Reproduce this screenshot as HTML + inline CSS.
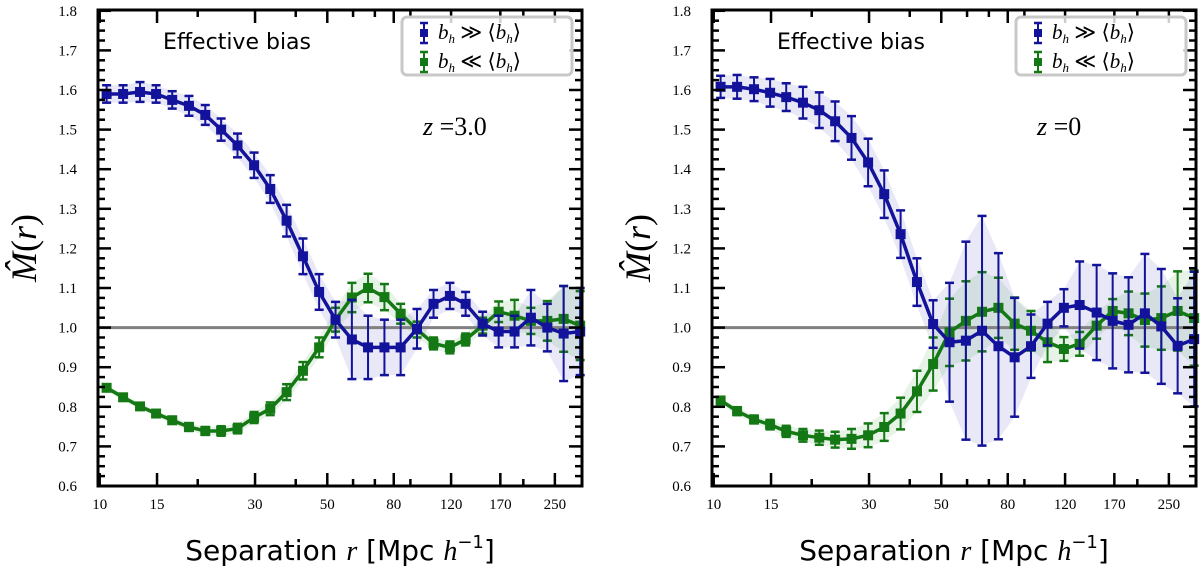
<!DOCTYPE html>
<html><head><meta charset="utf-8"><style>
body{margin:0;background:#fff;width:1200px;height:572px;overflow:hidden}
svg{display:block}
</style></head><body>
<svg id="fig" width="1200" height="572"></svg>
<script>
const radii=[10.5,11.8,13.3,14.9,16.7,18.8,21.1,23.6,26.5,29.8,33.4,37.5,42.1,47.2,53.0,59.5,66.7,74.9,84.0,94.3,106,119,133,150,168,188,211,237,266,299];
const leftHigh=[1.59,1.59,1.595,1.59,1.575,1.56,1.537,1.50,1.46,1.41,1.35,1.27,1.18,1.09,1.02,0.97,0.95,0.95,0.95,0.997,1.06,1.08,1.06,1.01,0.99,0.99,1.025,1.0,0.985,0.99];
const leftHighErr=[0.022,0.022,0.025,0.022,0.022,0.025,0.025,0.028,0.03,0.032,0.035,0.04,0.045,0.045,0.045,0.1,0.08,0.07,0.07,0.05,0.035,0.033,0.03,0.03,0.04,0.04,0.07,0.06,0.12,0.11];
const leftLow=[0.848,0.824,0.801,0.783,0.766,0.749,0.739,0.739,0.745,0.773,0.795,0.837,0.891,0.95,1.02,1.076,1.10,1.077,1.035,0.995,0.96,0.95,0.97,1.005,1.04,1.03,1.017,1.017,1.022,1.005];
const leftLowErr=[0.008,0.008,0.008,0.008,0.009,0.01,0.01,0.012,0.012,0.014,0.016,0.02,0.022,0.025,0.03,0.037,0.036,0.033,0.025,0.02,0.015,0.015,0.015,0.02,0.026,0.04,0.033,0.05,0.083,0.087];
const rightHigh=[1.608,1.608,1.602,1.593,1.582,1.568,1.549,1.521,1.479,1.417,1.337,1.236,1.115,1.009,0.963,0.967,0.992,0.953,0.925,0.953,1.01,1.05,1.057,1.038,1.017,1.007,1.036,1.003,0.954,0.971];
const rightHighErr=[0.028,0.03,0.03,0.035,0.035,0.04,0.045,0.05,0.055,0.06,0.06,0.06,0.06,0.06,0.15,0.25,0.29,0.235,0.15,0.08,0.055,0.047,0.11,0.12,0.12,0.12,0.15,0.145,0.12,0.17];
const rightLow=[0.816,0.789,0.768,0.755,0.738,0.728,0.722,0.717,0.719,0.728,0.749,0.783,0.839,0.908,0.988,1.017,1.04,1.05,1.01,0.992,0.963,0.946,0.959,1.005,1.042,1.036,1.019,1.024,1.042,1.024];
const rightLowErr=[0.008,0.01,0.01,0.012,0.014,0.016,0.018,0.02,0.025,0.03,0.035,0.04,0.052,0.067,0.085,0.1,0.1,0.076,0.066,0.05,0.05,0.03,0.03,0.033,0.03,0.055,0.067,0.08,0.1,0.12];
const xTicks=[10,15,30,50,80,120,170,250];
const xMinor=[20,40,60,70,90,200];
const yTicks=[0.6,0.7,0.8,0.9,1.0,1.1,1.2,1.3,1.4,1.5,1.6,1.7,1.8];
const panelLabels=["z =3.0","z =0"];

const NS="http://www.w3.org/2000/svg";
const svg=document.getElementById('fig');
function mk(tag,attrs,parent){const e=document.createElementNS(NS,tag);for(const k in attrs)e.setAttribute(k,attrs[k]);(parent||svg).appendChild(e);return e;}
const TOP=10,BOT=486,W=484,PXD=325.6;
const BLUE="#12129a",GREEN="#147814";

function panel(x0,hi,hiE,lo,loE,zlab,idx){
  const g=mk('g',{});
  
  
  const X=r=>x0+1.7+Math.log10(r/10)*PXD;
  const Y=v=>BOT-(v-0.6)*396;
  function band(vals,errs,color,name){
    let top=vals.map((v,i)=>X(radii[i])+','+Y(v+errs[i]));
    let bot=vals.map((v,i)=>X(radii[i])+','+Y(v-errs[i])).reverse();
    const p=mk('polygon',{points:top.concat(bot).join(' '),fill:color,'fill-opacity':0.1,stroke:'none'},g);
    
    
  }
  band(hi,hiE,'#1a1ab0','high-bias-band');
  band(lo,loE,'#1a8a1a','low-bias-band');
  const ul=mk('line',{x1:x0,x2:x0+W,y1:Y(1.0),y2:Y(1.0),stroke:'#808080','stroke-width':3},g);
  
  
  function series(vals,errs,color,name){
    const sg=mk('g',{},g);
    
    
    mk('polyline',{points:vals.map((v,i)=>X(radii[i])+','+Y(v)).join(' '),fill:'none',stroke:color,'stroke-width':3.5,'stroke-linejoin':'round'},sg);
    vals.forEach((v,i)=>{
      const x=X(radii[i]),yt=Y(v+errs[i]),yb=Y(v-errs[i]);
      mk('line',{x1:x,x2:x,y1:yt,y2:yb,stroke:color,'stroke-width':2},sg);
      mk('line',{x1:x-4.5,x2:x+4.5,y1:yt,y2:yt,stroke:color,'stroke-width':2.5},sg);
      mk('line',{x1:x-4.5,x2:x+4.5,y1:yb,y2:yb,stroke:color,'stroke-width':2.5},sg);
      const m=mk('rect',{x:x-5,y:Y(v)-5,width:10,height:10,fill:color},sg);
      
      
    });
  }
  series(lo,loE,GREEN,'low-bias-series');
  series(hi,hiE,BLUE,'high-bias-series');
  const fr=mk('rect',{x:x0,y:TOP,width:W,height:BOT-TOP,fill:'none',stroke:'#000','stroke-width':3},g);
  
  
  for(let v=0.6;v<=1.8001;v+=0.025){
    const major=Math.abs(v*10-Math.round(v*10))<1e-6;
    const L=major?13:7;const y=Y(v);
    mk('line',{x1:x0,x2:x0+L,y1:y,y2:y,stroke:'#000','stroke-width':2.5},g);
    mk('line',{x1:x0+W,x2:x0+W-L,y1:y,y2:y,stroke:'#000','stroke-width':2.5},g);
  }
  yTicks.forEach(v=>{
    const t=mk('text',{x:x0-21,y:Y(v)+5,'text-anchor':'end','font-family':'Liberation Serif, serif','font-size':15},g);
    t.textContent=v.toFixed(1);
    
    
  });
  xTicks.forEach(r=>{
    const x=X(r);
    mk('line',{x1:x,x2:x,y1:BOT,y2:BOT-13,stroke:'#000','stroke-width':2.5},g);
    mk('line',{x1:x,x2:x,y1:TOP,y2:TOP+13,stroke:'#000','stroke-width':2.5},g);
    const t=mk('text',{x:x,y:BOT+23,'text-anchor':'middle','font-family':'Liberation Serif, serif','font-size':15},g);
    t.textContent=String(r);
    
    
  });
  xMinor.forEach(r=>{
    const x=X(r);
    mk('line',{x1:x,x2:x,y1:BOT,y2:BOT-7,stroke:'#000','stroke-width':2.5},g);
    mk('line',{x1:x,x2:x,y1:TOP,y2:TOP+7,stroke:'#000','stroke-width':2.5},g);
  });
  const eb=mk('text',{x:x0+65,y:49,'font-family':'DejaVu Sans, Liberation Sans, sans-serif','font-size':22},g);
  eb.textContent='Effective bias';
  
  
  const zt=mk('text',{x:x0+325,y:135,'font-family':'Liberation Serif, serif','font-size':26},g);
  zt.innerHTML='<tspan font-style="italic">z</tspan> ='+zlab.split('=')[1];
  
  
  const lg=mk('g',{},g);
  
  
  mk('rect',{x:x0+304,y:17,width:170,height:58,rx:5,fill:'#fff','fill-opacity':0.8,stroke:'#c8c8c8','stroke-width':3},lg);
  [[BLUE,'≫',33],[GREEN,'≪',62]].forEach(([c,s,yy])=>{
    const e=mk('g',{},lg);
    
    
    const lx=x0+326;
    mk('line',{x1:lx,x2:lx,y1:yy-10,y2:yy+10,stroke:c,'stroke-width':2},e);
    mk('line',{x1:lx-4,x2:lx+4,y1:yy-10,y2:yy-10,stroke:c,'stroke-width':2.5},e);
    mk('line',{x1:lx-4,x2:lx+4,y1:yy+10,y2:yy+10,stroke:c,'stroke-width':2.5},e);
    mk('rect',{x:lx-4,y:yy-4,width:8,height:8,fill:c},e);
    const t=mk('text',{x:x0+340,y:yy+6,'font-family':'Liberation Serif, serif','font-size':21},e);
    t.innerHTML='<tspan font-style="italic">b</tspan><tspan font-style="italic" font-size="13" dy="4">h</tspan><tspan dy="-4"> '+s+' ⟨</tspan><tspan font-style="italic">b</tspan><tspan font-style="italic" font-size="13" dy="4">h</tspan><tspan dy="-4">⟩</tspan>';
  });
  const xl=mk('text',{x:x0+242,y:560,'text-anchor':'middle','font-family':'DejaVu Sans, Liberation Sans, sans-serif','font-size':28},g);
  xl.innerHTML='Separation <tspan font-family="Liberation Serif, serif" font-style="italic">r</tspan> [Mpc <tspan font-family="Liberation Serif, serif" font-style="italic">h</tspan><tspan font-size="18" dy="-12">−1</tspan><tspan dy="12">]</tspan>';
  
  
  const yl=mk('text',{x:0,y:0,transform:'translate('+(x0-62)+',248) rotate(-90)','text-anchor':'middle','font-family':'Liberation Serif, serif','font-size':36},g);
  yl.innerHTML='<tspan font-style="italic">M̂</tspan>(<tspan font-style="italic">r</tspan>)';
  
  
}
panel(98,leftHigh,leftHighErr,leftLow,leftLowErr,panelLabels[0],0);
panel(712,rightHigh,rightHighErr,rightLow,rightLowErr,panelLabels[1],1);
</script>
</body></html>
